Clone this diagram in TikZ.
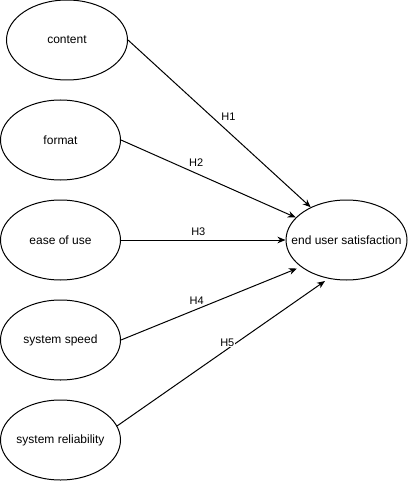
\documentclass[tikz,border=0pt]{standalone}
\usepackage{fontspec}
\setmainfont{Liberation Sans}
\usepackage{tikz}
\usetikzlibrary{arrows.meta,positioning,shapes.geometric}
\tikzset{
  >={Stealth[length=8pt,width=6.5pt,inset=2.5pt]},
  factor/.style={draw, ellipse, line width=1pt, minimum width=120pt, minimum height=80pt, inner xsep=-16pt, inner ysep=0pt, align=center, font=\fontsize{12}{14}\selectfont},
  hyp/.style={fill=white, inner sep=0.5pt, font=\fontsize{11}{13}\selectfont},
  flow/.style={->, line width=1pt},
}
\begin{document}
\begin{tikzpicture}[x=1pt, y=-1pt]
  \useasboundingbox (0,0) rectangle (407,481);
  % factors
  \node[factor, minimum width=121pt] (content) at (67,40)   {content};
  \node[factor] (format)  at (60.5,140) {format};
  \node[factor] (ease)    at (60.5,240) {ease of use};
  \node[factor] (speed)   at (60.5,340) {system speed};
  \node[factor] (rel)     at (60.5,440) {system reliability};
  % outcome
  \node[factor, minimum width=121pt] (eus) at (346.5,240) {end user satisfaction};
  \coordinate (eusS) at (297,268.5);
  \coordinate (eusR) at (325,281);
  % hypotheses
  \draw[flow] (content.east) -- node[hyp, pos=0.5, above right=2pt and 1pt] (h1) {H1} (eus);
  \draw[flow] (format.east) -- node[hyp, pos=0.43, above=6pt] (h2) {H2} (eus);
  \draw[flow] (ease.east) -- node[hyp, pos=0.47, above=3pt] (h3) {H3} (eus.west);
  \draw[flow] (speed.east) -- node[hyp, pos=0.43, above=4pt] (h4) {H4} (eusS);
  \draw[flow] (rel.14) -- node[hyp, pos=0.53, above=1.5pt] (h5) {H5} (eusR);
\end{tikzpicture}
\end{document}
